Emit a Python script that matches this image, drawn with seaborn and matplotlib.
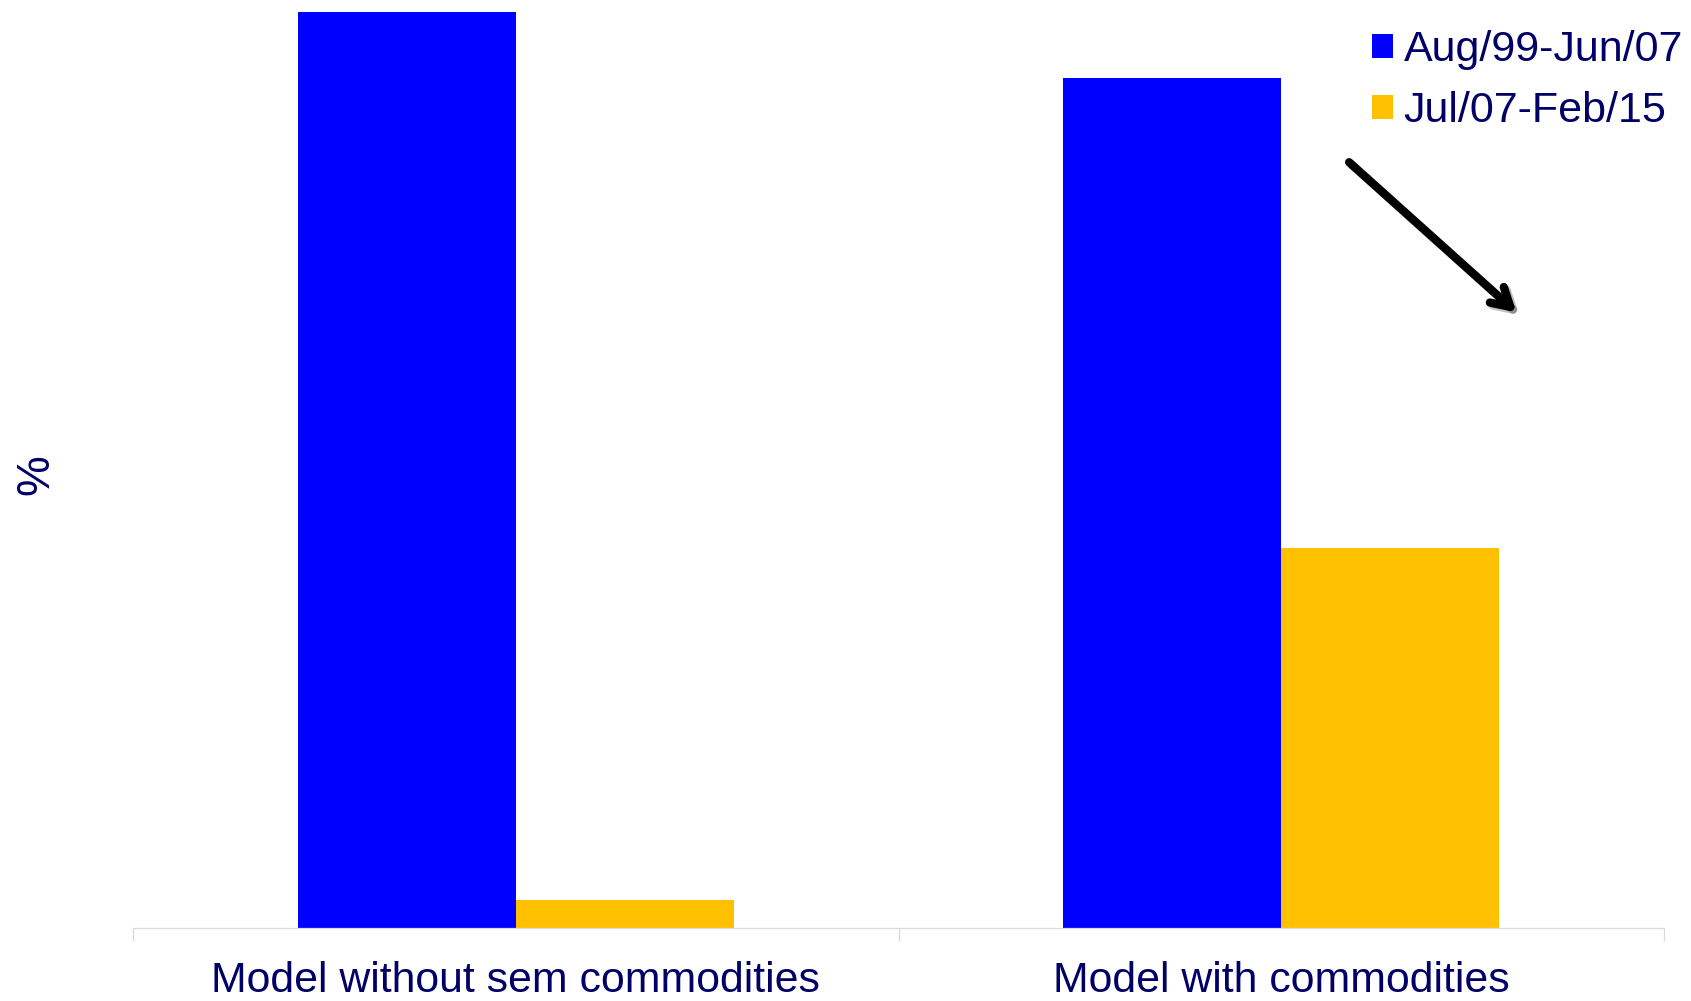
import pandas as pd
import matplotlib.pyplot as plt
import matplotlib.patheffects as pe
import seaborn as sns

# Data (no axis scale shown in the original, values read as relative heights)
models = ['Model without sem commodities', 'Model with commodities']
periods = ['Aug/99-Jun/07', 'Jul/07-Feb/15']
early = [9.16, 8.50]
late = [0.285, 3.80]
colors = ['#0000FF', '#FFC000']
text_color = '#000066'

df = pd.DataFrame({
    'model': models * 2,
    'period': [periods[0]] * 2 + [periods[1]] * 2,
    'value': early + late,
})

sns.set_style('white')
plt.rcParams['font.family'] = ['Liberation Sans', 'DejaVu Sans']

fig = plt.figure(figsize=(16.91, 10.01), dpi=100)
ax = fig.add_axes([133 / 1691, 73 / 1001, 1531 / 1691, 916 / 1001])

sns.barplot(data=df, x='model', y='value', hue='period', palette=colors,
            width=0.57, saturation=1, linewidth=0, ax=ax)

ax.set_xlim(-0.5, 1.5)
ax.set_ylim(0, 9.16)
ax.set_yticks([])
ax.set_xlabel('')
ax.set_ylabel('%', fontsize=33, color=text_color)
ax.yaxis.set_label_coords((58 - 133) / 1531, (928 - 475) / 916)

for s in ['top', 'right', 'left']:
    ax.spines[s].set_visible(False)
ax.spines['bottom'].set_color('#d9d9d9')
ax.spines['bottom'].set_linewidth(0.9)

ax.set_xticks([-0.5, 0.5, 1.5])
ax.set_xticklabels([])
ax.tick_params(axis='x', which='major', length=9.5, width=0.9, color='#d9d9d9', direction='out', bottom=True)
ax.set_xticks([0, 1], minor=True)
ax.set_xticklabels(models, minor=True, fontsize=30.8, color=text_color)
ax.tick_params(axis='x', which='minor', length=0, pad=24)

leg = ax.legend(loc='upper right', bbox_to_anchor=(1.032, 1.013), frameon=False,
                fontsize=31, handlelength=0.48, handleheight=0.48,
                handletextpad=0.25, labelspacing=0.48, borderaxespad=0.3)
for t in leg.get_texts():
    t.set_color(text_color)

ax.annotate('', xy=(0.905, 0.670), xytext=(0.793, 0.838), xycoords='axes fraction',
            arrowprops=dict(arrowstyle='->, head_length=1.3, head_width=0.75', lw=6,
                            color='black', capstyle='round', joinstyle='round',
                            path_effects=[pe.SimpleLineShadow(offset=(2, -2), alpha=0.25), pe.Normal()]))

fig.savefig('out.png', dpi=100)
